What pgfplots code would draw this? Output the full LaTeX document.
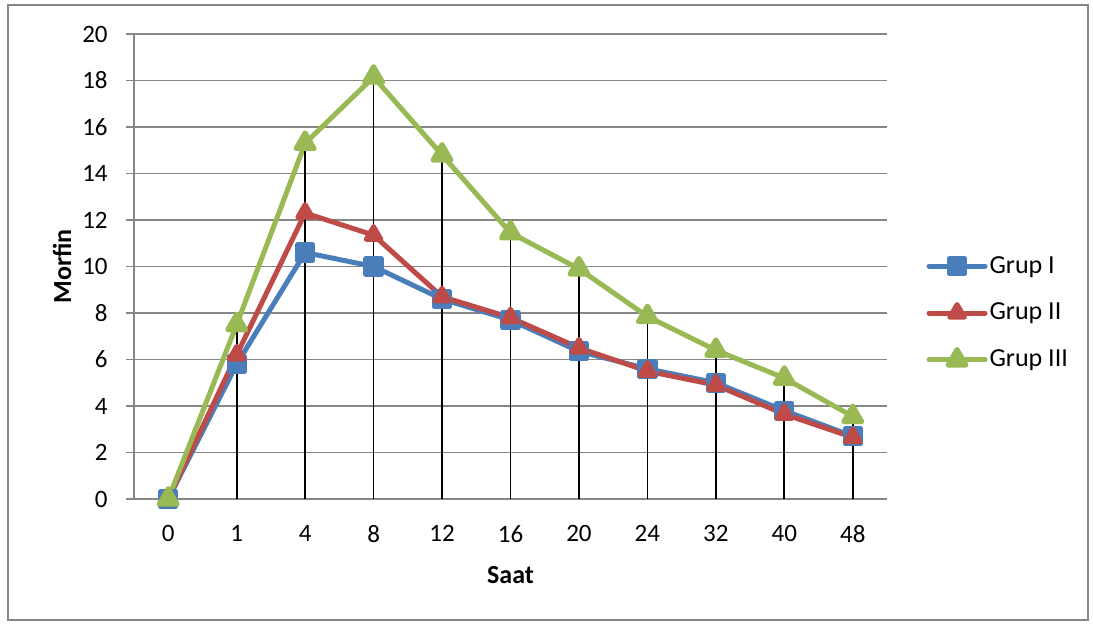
\documentclass[border=0pt]{standalone}
\usepackage{fontspec}
\setmainfont{Carlito}
\usepackage{pgfplots}
\pgfplotsset{compat=1.18}
\definecolor{gI}{HTML}{4A7EBB}
\definecolor{gII}{HTML}{BE4B48}
\definecolor{gIII}{HTML}{98B954}
\definecolor{gridc}{HTML}{868686}
\begin{document}
\begin{tikzpicture}
\path (-67pt,-62pt) rectangle (479.5pt,249.5pt);
\draw[gridc, line width=0.75pt] (-63pt,-60.5pt) rectangle (477pt,247pt);
\begin{axis}[
 scale only axis, width=376.5pt, height=232.5pt,
 at={(0,0)}, anchor=south west,
 xmin=-0.5, xmax=10.5, ymin=0, ymax=20,
 xtick={0,...,10}, xticklabels={0,1,4,8,12,16,20,24,32,40,48},
 ytick={0,2,...,20},
 axis x line*=bottom, axis y line*=left,
 axis line style={gridc, line width=0.9pt},
 ymajorgrids, grid style={gridc, line width=0.9pt},
 tick align=outside, major tick length=4pt,
 x tick style={draw=none}, y tick style={gridc, line width=0.9pt},
 /pgf/number format/assume math mode=true,
 tick label style={font=\fontsize{12.5}{14}\selectfont},
 y tick label style={inner sep=0pt, xshift=-9pt},
 x tick label style={inner sep=0pt, yshift=-9pt},
 ylabel={\textbf{Morfin}},
 xlabel={\textbf{Saat}},
 label style={font=\fontsize{13}{15}\selectfont},
 ylabel style={at={(axis description cs:-0.0956,0.5)}, anchor=center},
 xlabel style={at={(axis description cs:0.5,-0.163)}, anchor=center},
 legend style={draw=none, fill=none, at={(1.052,0.4)}, anchor=west,
   font=\fontsize{13}{15}\selectfont, row sep=11.5pt, inner sep=0pt,
   nodes={inner sep=1pt},
   /tikz/every odd column/.append style={column sep=0pt}},
 legend cell align=left,
 legend image code/.code={\draw[mark repeat=2,mark phase=2,line cap=round,#1] plot coordinates {(0pt,0pt) (14pt,0pt) (28pt,0pt)};},
]
\addplot[gI, line width=2.5pt, line join=round, mark=square*, mark size=3.8pt, mark options={solid, fill=gI}] table {
x y
0 0
1 5.8
2 10.6
3 10.0
4 8.6
5 7.7
6 6.35
7 5.6
8 5.0
9 3.8
10 2.7
};
\addlegendentry{Grup I}
\addplot[gII, line width=2.5pt, line join=round, mark=triangle*, mark size=4.2pt, mark options={solid, fill=gII}] table {
x y
0 0
1 6.2
2 12.3
3 11.35
4 8.7
5 7.8
6 6.5
7 5.5
8 4.9
9 3.65
10 2.65
};
\addlegendentry{Grup II}
\addplot[gIII, line width=2.5pt, line join=round, mark=triangle*, mark size=5.2pt, mark options={solid, fill=gIII}] table {
x y
0 0
1 7.5
2 15.3
3 18.15
4 14.8
5 11.45
6 9.9
7 7.85
8 6.4
9 5.2
10 3.55
};
\addlegendentry{Grup III}
\addplot[black, line width=0.85pt, ycomb, no marks, forget plot] table {
x y
0 0
1 7.5
2 15.3
3 18.15
4 14.8
5 11.45
6 9.9
7 7.85
8 6.4
9 5.2
10 3.55
};
\end{axis}
\end{tikzpicture}
\end{document}
